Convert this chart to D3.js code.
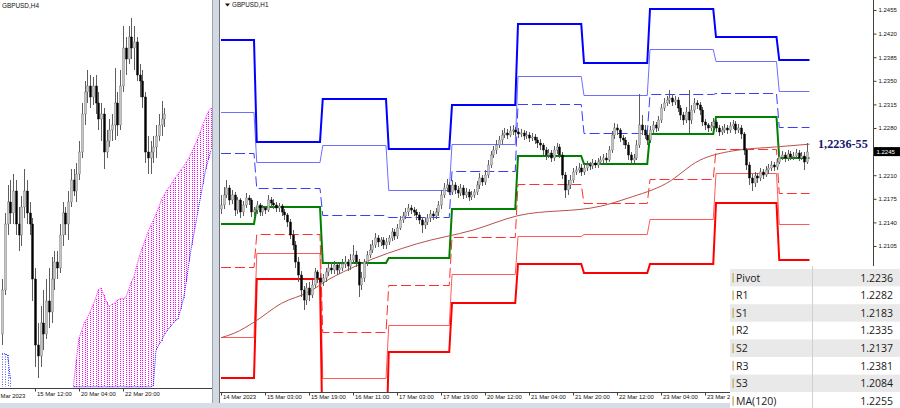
<!DOCTYPE html>
<html><head><meta charset="utf-8">
<script src="https://cdn.jsdelivr.net/npm/d3@7"></script>
<style>
html,body{margin:0;padding:0;background:#fff;}
svg{display:block;font-family:"Liberation Sans",Arial,sans-serif;}
</style></head><body>
<svg id="c" width="900" height="408"></svg>
<script>
// ---------------- DATA (prices in pips: 12245 = 1.2245) ----------------
// H1 candles (right panel), bar index 0 = 14 Mar 11:00
const h1FirstOpen = 12160;
const h1Close = [12166,12181,12191,12173,12181,12158,12173,12155,12166,12176,12173,12155,12158,12166,12155,12161,12158,12173,12169,12166,
12161,12164,12155,12151,12141,12122,12107,12081,12062,12040,12025,12043,12033,12047,12066,12057,12052,12057,12066,12072,
12069,12077,12069,12072,12078,12081,12075,12084,12092,12081,12047,12057,12081,12092,12099,12107,12117,12111,12114,12107,
12111,12117,12126,12120,12132,12144,12149,12155,12161,12158,12155,12151,12144,12136,12141,12146,12152,12149,12155,12166,
12181,12191,12196,12185,12196,12188,12184,12191,12181,12185,12178,12181,12185,12196,12206,12200,12211,12225,12240,12247,
12255,12262,12270,12273,12270,12276,12277,12274,12271,12273,12268,12270,12265,12267,12262,12258,12255,12247,12240,12243,
12236,12247,12252,12240,12211,12188,12196,12203,12215,12218,12221,12215,12221,12225,12224,12228,12225,12230,12233,12236,
12233,12247,12270,12280,12277,12265,12262,12255,12240,12233,12236,12255,12284,12277,12270,12262,12277,12284,12280,12292,
12310,12317,12322,12325,12319,12322,12310,12299,12292,12304,12292,12307,12317,12314,12307,12289,12284,12280,12283,12289,
12280,12274,12277,12280,12277,12283,12286,12277,12280,12271,12247,12225,12206,12199,12209,12206,12215,12211,12218,12221,
12225,12222,12230,12237,12240,12236,12241,12237,12239,12243,12236,12239,12230,12245];
const h1High = [12180,12192,12203,12196,12188,12185,12178,12176,12171,12183,12181,12176,12163,12172,12169,12166,12165,12181,12178,12174,
12170,12169,12167,12160,12154,12145,12128,12112,12088,12068,12046,12050,12052,12055,12072,12070,12063,12064,12072,12078,
12080,12083,12081,12078,12085,12090,12086,12093,12107,12098,12086,12066,12086,12098,12108,12114,12124,12122,12119,12118,
12117,12122,12132,12130,12138,12150,12155,12162,12168,12166,12163,12160,12155,12148,12147,12152,12158,12157,12162,12172,
12188,12199,12205,12200,12203,12200,12194,12197,12195,12191,12189,12187,12190,12202,12213,12210,12218,12232,12246,12254,
12262,12268,12277,12280,12279,12283,12284,12282,12280,12279,12277,12275,12274,12272,12271,12266,12263,12258,12252,12249,
12247,12254,12258,12256,12244,12215,12203,12210,12220,12224,12228,12226,12227,12231,12230,12234,12233,12236,12239,12242,
12243,12254,12276,12288,12286,12280,12270,12266,12259,12245,12242,12262,12330,12300,12285,12276,12283,12290,12289,12298,
12316,12324,12328,12337,12330,12328,12326,12314,12304,12311,12336,12314,12324,12322,12318,12311,12294,12288,12289,12295,
12292,12285,12283,12286,12285,12289,12292,12290,12286,12284,12274,12250,12230,12212,12215,12214,12221,12219,12224,12227,
12231,12229,12236,12243,12246,12245,12248,12246,12245,12249,12248,12245,12244,12258];
const h1Low = [12152,12160,12176,12166,12168,12150,12153,12147,12150,12161,12166,12148,12149,12153,12150,12150,12152,12155,12163,12160,
12155,12156,12149,12144,12133,12115,12099,12072,12052,12030,12010,12018,12024,12028,12042,12050,12045,12046,12052,12060,
12063,12064,12062,12064,12068,12073,12068,12070,12078,12074,12030,12040,12052,12076,12087,12094,12102,12104,12105,12100,
12101,12106,12112,12114,12115,12128,12139,12145,12150,12152,12150,12144,12138,12125,12130,12136,12141,12143,12145,12150,
12160,12176,12185,12180,12180,12182,12176,12179,12175,12176,12172,12173,12176,12180,12190,12194,12195,12206,12220,12235,
12242,12250,12257,12265,12264,12266,12270,12268,12265,12266,12262,12263,12259,12260,12256,12251,12248,12240,12233,12235,
12229,12231,12242,12235,12205,12176,12180,12190,12198,12210,12213,12209,12210,12216,12218,12219,12220,12221,12225,12228,
12227,12229,12243,12264,12270,12259,12255,12249,12233,12226,12228,12232,12250,12270,12264,12255,12258,12272,12274,12276,
12288,12305,12312,12316,12313,12314,12304,12292,12285,12288,12273,12286,12302,12308,12300,12283,12277,12274,12275,12278,
12274,12268,12269,12272,12271,12272,12278,12271,12272,12264,12240,12218,12196,12187,12193,12199,12201,12205,12207,12212,
12216,12216,12218,12226,12232,12230,12231,12232,12233,12235,12231,12232,12218,12227];

// Daily pivot levels (one value per day)
const dayNames = ["14 Mar","15 Mar","16 Mar","17 Mar","20 Mar","21 Mar","22 Mar","23 Mar","24 Mar","27 Mar"];
const dayStartBar = [0,13,37,61,84,108,132,156,180,203];
const lastBar = 214;
const lvR3 = [12411,12259,12323,12249,12314,12434,12376,12456,12415,12381];
const lvR2 = [12304,12230,12255,12188,12256,12357,12329,12397,12379,12335];
const lvR1 = [12243,12191,12151,12148,12216,12316,12273,12330,12332,12282];
const lvP  = [12138,12163,12080,12087,12160,12238,12227,12271,12296,12236];
const lvS1 = [12074,12123,11977,12047,12118,12197,12169,12204,12249,12183];
const lvS2 = [11970,12095,11909,11988,12063,12120,12123,12145,12213,12137];
const lvS3 = [11909,12056,11795,11948,12020,12078,12065,12078,12169,12084];

// MA(120) read at some bars
const maBar = [0,5,12,22,32,39,50,71,92,108,138,148,162,174,186,202,214];
const maVal = [11969,11976,11992,12020,12037,12055,12077,12108,12129,12150,12164,12176,12198,12232,12246,12252,12256];

// axes
const priceTicks = [12105,12140,12175,12210,12245,12280,12315,12350,12385,12420,12455];
const timeTickBar = [0,16,32,48,64,80,96,112,128,144,160,176];
const timeTickText = ["14 Mar 2023","15 Mar 03:00","15 Mar 19:00","16 Mar 11:00","17 Mar 03:00","17 Mar 19:00","20 Mar 12:00","21 Mar 04:00","21 Mar 20:00","22 Mar 12:00","23 Mar 04:00","23 Mar 20"];

// table
const tableNames = ["Pivot","R1","S1","R2","S2","R3","S3","MA(120)"];
const tableValues = ["1.2236","1.2282","1.2183","1.2335","1.2137","1.2381","1.2084","1.2255"];
const zoneLabel = "1,2236-55";
const lastPrice = 12245;

// H4 candles (left panel), bar 0 = 13 Mar 12:00
const h4Open  = [12050,12090,12150,12170,12160,12180,12150,12140,12165,12180,12160,12150,12100,12040,12030,12060,12050,12080,12070,12100,
12115,12110,12140,12160,12150,12170,12190,12180,12195,12215,12250,12270,12275,12265,12275,12260,12245,12250,12215,12225,
12235,12240,12260,12240,12275,12310,12300,12320,12310,12315,12285,12280,12265,12215,12210,12215,12220,12230,12240,12245];
const h4Close = [12090,12150,12170,12160,12180,12150,12140,12165,12180,12160,12150,12100,12040,12030,12060,12050,12080,12070,12100,12115,
12110,12140,12160,12150,12170,12190,12180,12195,12215,12250,12270,12275,12265,12275,12260,12245,12250,12215,12225,12235,
12240,12260,12240,12275,12310,12300,12320,12310,12315,12285,12280,12265,12215,12210,12215,12220,12230,12240,12245,12250];
const h4High  = [12100,12160,12185,12190,12195,12190,12165,12175,12200,12190,12170,12155,12110,12060,12075,12090,12100,12110,12120,12125,
12125,12150,12170,12165,12180,12200,12200,12205,12225,12260,12280,12290,12285,12283,12285,12270,12260,12255,12235,12245,
12250,12292,12270,12290,12330,12320,12330,12337,12330,12320,12295,12290,12270,12230,12225,12230,12240,12250,12262,12255];
const h4Low   = [12040,12085,12140,12150,12150,12140,12125,12130,12155,12150,12140,12080,12020,12010,12020,12035,12045,12055,12060,12090,
12100,12105,12130,12140,12135,12165,12175,12170,12190,12210,12240,12260,12255,12258,12250,12235,12225,12200,12210,12220,
12225,12226,12230,12235,12270,12285,12295,12300,12290,12280,12265,12255,12205,12195,12195,12205,12210,12225,12230,12238];
const h4TickBar = [12,28,44];
const h4TickText = ["15 Mar 12:00","20 Mar 04:00","22 Mar 20:00"];
const h4FirstLabel = "Mar 2023";

// Ichimoku cloud (left panel), from bar 26 to 76
const kumoFirstBar = 26;
const kumoA = [12003,12026,12046,12053,12061,12064,12070,12076,12082,12090,12092,12085,12079,12075,12077,12078,12081,12082,12082,12083,
12090,12097,12102,12112,12121,12128,12135,12142,12148,12153,12159,12165,12172,12176,12181,12184,12188,12192,12195,12199,
12202,12206,12210,12215,12221,12226,12233,12240,12246,12252,12255];
const kumoB = [12002,12002,12002,12002,12002,12002,12002,12002,12002,12002,12002,12002,12002,12002,12002,12002,12002,12002,12002,12002,
12002,12002,12002,12002,12002,12002,12002,12002,12002,12003,12035,12040,12044,12049,12053,12056,12059,12062,12064,12073,
12082,12097,12115,12131,12144,12158,12172,12185,12199,12208,12217];
const bearKumoBar = [0,1,2,3];
const bearKumoA = [12032,12032,12031,12010];
const bearKumoB = [12002,12002,12002,12002];

// ---------------- DRAW ----------------
const svg = d3.select('#c');
const defs = svg.append('defs');
svg.append('rect').attr('width',900).attr('height',408).attr('fill','#ffffff');
const px = v => Math.round(v);

// ===== LEFT PANEL =====
const L = {l:0, r:212, t:0, b:388};
defs.append('clipPath').attr('id','clipL').append('rect').attr('x',L.l).attr('y',L.t).attr('width',L.r-L.l).attr('height',L.b-L.t);
const xL = d3.scaleLinear().domain([0,100]).range([2,277]);
const yL = d3.scaleLinear().domain([12010,12337]).range([378,18]);
const gL = svg.append('g').attr('clip-path','url(#clipL)');

// cloud fill as dotted vertical strokes
const kumo = kumoA.map((a,k)=>({bar:kumoFirstBar+k, a, b:kumoB[k]}));
gL.append('g').selectAll('line').data(kumo).join('line')
  .attr('x1',d=>px(xL(d.bar))+0.5).attr('x2',d=>px(xL(d.bar))+0.5)
  .attr('y1',d=>px(yL(Math.max(d.a,d.b)))).attr('y2',d=>px(yL(Math.min(d.a,d.b))))
  .attr('stroke','#ff00ff').attr('stroke-width',1).attr('stroke-dasharray','1,1');
gL.append('path').datum(kumo).attr('fill','none').attr('stroke','#ff00ff').attr('stroke-width',1).attr('stroke-dasharray','1,1')
  .attr('d',d3.line().x(d=>xL(d.bar)).y(d=>yL(d.a)));
gL.append('path').datum(kumo).attr('fill','none').attr('stroke','#1a1aff').attr('stroke-width',1).attr('stroke-dasharray','1,1')
  .attr('d',d3.line().x(d=>xL(d.bar)).y(d=>yL(d.b)));
const bear = bearKumoBar.map((b,k)=>({bar:b,a:bearKumoA[k],b:bearKumoB[k]}));
gL.append('path').datum(bear).attr('fill','none').attr('stroke','#1a1aff').attr('stroke-width',1).attr('stroke-dasharray','1,1')
  .attr('d',d3.line().x(d=>xL(d.bar)).y(d=>yL(d.a)));
gL.append('g').selectAll('line').data(bear).join('line')
  .attr('x1',d=>px(xL(d.bar))+0.5).attr('x2',d=>px(xL(d.bar))+0.5)
  .attr('y1',d=>px(yL(d.a))).attr('y2',d=>px(yL(d.b)))
  .attr('stroke','#5555ff').attr('stroke-width',1).attr('stroke-dasharray','1,1.5');

function drawCandles(g, x, y, o, h, l, c){
  const data = c.map((v,i)=>({i,o:o[i],h:h[i],l:l[i],c:v}));
  g.append('g').selectAll('line').data(data).join('line')
    .attr('x1',d=>px(x(d.i))+0.5).attr('x2',d=>px(x(d.i))+0.5).attr('y1',d=>px(y(d.h))).attr('y2',d=>px(y(d.l)))
    .attr('stroke','#5e5e5e').attr('stroke-width',1);
  g.append('g').selectAll('rect').data(data).join('rect')
    .attr('x',d=>px(x(d.i))-0.5).attr('width',2)
    .attr('y',d=>px(y(Math.max(d.o,d.c)))).attr('height',d=>Math.max(1,px(y(Math.min(d.o,d.c)))-px(y(Math.max(d.o,d.c)))))
    .attr('fill',d=>d.c>=d.o?'#c4c4c4':'#000').attr('stroke',d=>d.c>=d.o?'#707070':'#000').attr('stroke-width',0.4);
}
drawCandles(gL, xL, yL, h4Open, h4High, h4Low, h4Close);

// left x axis
svg.append('line').attr('x1',0).attr('x2',212).attr('y1',388.5).attr('y2',388.5).attr('stroke','#404040');
const axL = svg.append('g').attr('transform','translate(0,388.5)')
  .call(d3.axisBottom(xL).tickValues(h4TickBar).tickFormat((d,i)=>h4TickText[i]).tickSize(3));
axL.select('.domain').remove();
axL.selectAll('line').attr('stroke','#404040');
axL.selectAll('text').attr('text-anchor','start').attr('dx',1.5).attr('y',3.5).attr('font-size',5.9).attr('fill','#111')
  .attr('font-family','"Liberation Sans",Arial,sans-serif');
svg.append('text').attr('x',0.5).attr('y',398).attr('font-size',5.9).attr('fill','#111').text(h4FirstLabel);
svg.append('text').attr('x',2).attr('y',7.5).attr('font-size',6.4).attr('fill','#111').text('GBPUSD,H4');

// divider between windows
svg.append('rect').attr('x',212).attr('y',0).attr('width',8).attr('height',408).attr('fill','#d2d9e3');
svg.append('line').attr('x1',212.5).attr('x2',212.5).attr('y1',0).attr('y2',408).attr('stroke','#9aa5b3');
svg.append('line').attr('x1',219.5).attr('x2',219.5).attr('y1',0).attr('y2',408).attr('stroke','#6f6f6f');

// ===== RIGHT PANEL =====
const R = {l:220, r:873, t:0, b:392};
defs.append('clipPath').attr('id','clipR').append('rect').attr('x',R.l).attr('y',R.t).attr('width',R.r-R.l).attr('height',R.b-R.t);
const xR = d3.scaleLinear().domain([0,100]).range([221,496]);
const yR = d3.scaleLinear().domain([12105,12455]).range([246,10]);
const gR = svg.append('g').attr('clip-path','url(#clipR)');

function stepPoints(vals){
  const pts=[];
  vals.forEach((v,d)=>{
    const s=dayStartBar[d], e=(d<vals.length-1)?dayStartBar[d+1]-1:lastBar;
    pts.push([s,v]); pts.push([e,v]);
  });
  return pts;
}
const levelStyles = [
  {v:lvR2, c:'#6e6eff', w:1, dash:null},
  {v:lvS2, c:'#ff5a5a', w:1, dash:null},
  {v:lvR1, c:'#3c3cff', w:1, dash:'10,4'},
  {v:lvS1, c:'#ff3030', w:1, dash:'10,4'},
  {v:lvR3, c:'#0000ff', w:2, dash:null},
  {v:lvS3, c:'#ff0000', w:2, dash:null},
  {v:lvP,  c:'#008000', w:2, dash:null}
];
levelStyles.forEach(s=>{
  const off = s.w===1 ? 0.5 : 0;
  const lg = d3.line().x(p=>xR(p[0])).y(p=>px(yR(p[1]))+off);
  gR.append('path').datum(stepPoints(s.v)).attr('fill','none').attr('stroke',s.c).attr('stroke-width',s.w)
    .attr('stroke-dasharray',s.dash).attr('d',lg);
});
// MA(120)
const maPts = maBar.map((b,k)=>[b,maVal[k]]);
gR.append('path').datum(maPts).attr('fill','none').attr('stroke','#b8504a').attr('stroke-width',1)
  .attr('d',d3.line().x(p=>xR(p[0])).y(p=>yR(p[1])).curve(d3.curveMonotoneX));

const h1Open = h1Close.map((c,i)=> i===0 ? h1FirstOpen : h1Close[i-1]);
drawCandles(gR, xR, yR, h1Open, h1High, h1Low, h1Close);

// right price axis
svg.append('line').attr('x1',R.r+0.5).attr('x2',R.r+0.5).attr('y1',0).attr('y2',R.b).attr('stroke','#404040');
const ayR = svg.append('g').attr('transform',`translate(${R.r+0.5},0)`)
  .call(d3.axisRight(yR).tickValues(priceTicks).tickFormat(d=>(d/10000).toFixed(4)).tickSize(3).tickPadding(2));
ayR.select('.domain').remove();
ayR.selectAll('line').attr('stroke','#404040');
ayR.selectAll('text').attr('font-size',6).attr('fill','#111').attr('font-family','"Liberation Sans",Arial,sans-serif');
ayR.selectAll('.tick').filter(d=>d===lastPrice).select('text').remove();
// last price tag
svg.append('rect').attr('x',R.r+1).attr('y',yR(lastPrice)-4.5).attr('width',26).attr('height',9).attr('fill','#000');
svg.append('text').attr('x',R.r+3.5).attr('y',yR(lastPrice)+2.2).attr('font-size',6).attr('fill','#fff').text((lastPrice/10000).toFixed(4));

// bottom time axis
svg.append('line').attr('x1',R.l).attr('x2',R.r).attr('y1',R.b+0.5).attr('y2',R.b+0.5).attr('stroke','#404040');
const axR = svg.append('g').attr('transform',`translate(0,${R.b+0.5})`)
  .call(d3.axisBottom(xR).tickValues(timeTickBar).tickFormat((d,i)=>timeTickText[i]).tickSize(3));
axR.select('.domain').remove();
axR.selectAll('line').attr('stroke','#404040');
axR.selectAll('text').attr('text-anchor','start').attr('dx',1.5).attr('y',2.5).attr('font-size',5.9).attr('fill','#111')
  .attr('font-family','"Liberation Sans",Arial,sans-serif');

// title
svg.append('path').attr('d','M225,3.5 L230,3.5 L227.5,6.5 Z').attr('fill','#111');
svg.append('text').attr('x',232).attr('y',7.2).attr('font-size',6.3).attr('fill','#111').text('GBPUSD,H1');

// zone label
svg.append('text').attr('x',818).attr('y',148).attr('font-family','"Liberation Serif","Times New Roman",serif')
  .attr('font-weight','bold').attr('font-size',12.2).attr('fill','#16166e').text(zoneLabel);

// bottom window strip
svg.append('rect').attr('x',0).attr('y',403).attr('width',900).attr('height',5).attr('fill','#d7dde6');

// table
const T = {x:730, y:269, w:170, rh:17.6, split:812};
const tg = svg.append('g');
tg.append('rect').attr('x',T.x).attr('y',T.y-3).attr('width',T.w).attr('height',408-T.y+3).attr('fill','#fff');
tg.selectAll('rect.row').data(tableNames).join('rect').attr('class','row')
  .attr('x',T.x).attr('y',(d,i)=>T.y+i*T.rh).attr('width',T.w).attr('height',T.rh)
  .attr('fill',(d,i)=>i%2===0?'#e9e9e9':'#ffffff');
tg.append('line').attr('x1',T.split+0.5).attr('x2',T.split+0.5).attr('y1',T.y-3).attr('y2',408).attr('stroke','#d0d0d0');
tg.selectAll('rect.mk').data(tableNames).join('rect').attr('class','mk')
  .attr('x',T.x+2.5).attr('y',(d,i)=>T.y+i*T.rh+4).attr('width',1.2).attr('height',T.rh-8).attr('fill','#c9a24a');
tg.selectAll('text.nm').data(tableNames).join('text').attr('class','nm')
  .attr('x',T.x+6).attr('y',(d,i)=>T.y+i*T.rh+T.rh/2+3.8).attr('font-size',10.5).attr('fill','#1a1a1a')
  .attr('font-family','"Open Sans","Noto Sans",sans-serif').text(d=>d);
tg.selectAll('text.vl').data(tableValues).join('text').attr('class','vl')
  .attr('x',893).attr('y',(d,i)=>T.y+i*T.rh+T.rh/2+3.8).attr('text-anchor','end').attr('font-size',10.5).attr('fill','#1a1a1a')
  .attr('font-family','"Open Sans","Noto Sans",sans-serif').text(d=>d);
</script></body></html>
